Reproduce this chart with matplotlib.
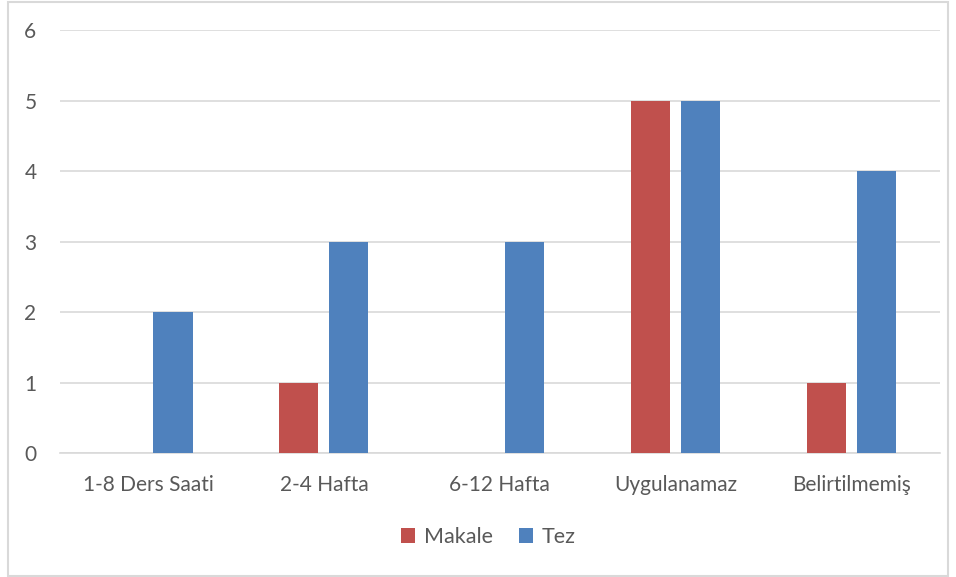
import numpy as np
import matplotlib.pyplot as plt
from matplotlib.patches import Rectangle

categories = ["1-8 Ders Saati", "2-4 Hafta", "6-12 Hafta", "Uygulanamaz", "Belirtilmemiş"]
makale = [0, 1, 0, 5, 1]
tez = [2, 3, 3, 5, 4]

plt.rcParams['font.family'] = ['Lato', 'DejaVu Sans']

fig = plt.figure(figsize=(9.56, 5.77), dpi=100)
ax = fig.add_axes([0.0628, 0.2149, 0.9202, 0.7331])

x = np.arange(len(categories))
w = 0.222
ax.bar(x - 0.142, makale, w, color='#C0504D', label='Makale', zorder=3)
ax.bar(x + 0.142, tez, w, color='#4F81BD', label='Tez', zorder=3)

ax.set_xlim(-0.5, len(categories) - 0.5)
ax.set_ylim(0, 6)
ax.set_yticks(range(0, 7))
ax.yaxis.grid(True, color='#D9D9D9', linewidth=1.2, zorder=0)
ax.set_xticks(x)
ax.set_xticklabels(categories)
ax.tick_params(axis='both', length=0, labelsize=15, colors='#595959')
ax.tick_params(axis='x', pad=16)
ax.tick_params(axis='y', pad=17)
for s in ['top', 'right', 'left']:
    ax.spines[s].set_visible(False)
ax.spines['bottom'].set_color('#D9D9D9')
ax.spines['bottom'].set_linewidth(1.2)

leg = fig.legend(loc='center', bbox_to_anchor=(0.511, 0.069), ncol=2, frameon=False,
                 fontsize=15.5, handlelength=0.65, handleheight=0.65, columnspacing=1.2,
                 handletextpad=0.4)
for t in leg.get_texts():
    t.set_color('#595959')

# outer chart border
fig.patches.append(Rectangle((8 / 956, 1 / 577), 940 / 956, 574 / 577, transform=fig.transFigure,
                             fill=False, edgecolor='#D9D9D9', linewidth=1.5))

fig.savefig('out.png', dpi=100, facecolor='white')
